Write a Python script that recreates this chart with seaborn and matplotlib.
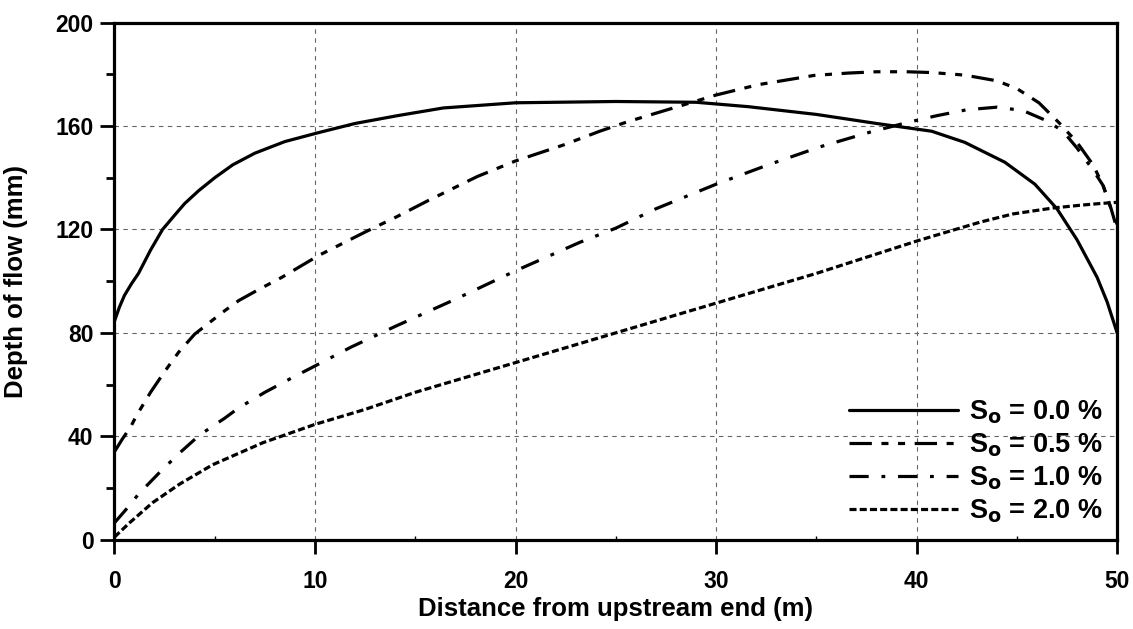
import numpy as np
import pandas as pd
import matplotlib
matplotlib.use("Agg")
import matplotlib.pyplot as plt
import seaborn as sns
from matplotlib.ticker import MultipleLocator
from matplotlib.lines import Line2D

labels = ["S$_\\mathbf{o}$ = 0.0 %", "S$_\\mathbf{o}$ = 0.5 %",
          "S$_\\mathbf{o}$ = 1.0 %", "S$_\\mathbf{o}$ = 2.0 %"]

x_s00 = [0, 0.25, 0.5, 0.85, 1.2, 1.8, 2.4, 3.0, 3.5, 4.2, 5.0, 5.9, 7.0, 8.5, 10.2, 12, 14.1, 16.4, 20, 25, 29, 31.6, 35, 38, 40.75, 42.4, 44.4, 45.9, 47, 48, 49, 49.5, 50]
y_s00 = [84.5, 90, 94.5, 99, 103, 112, 120, 125.5, 130, 135, 140, 145, 149.5, 154, 157.5, 161, 164, 167, 169, 169.5, 169.2, 167.5, 164.5, 161, 158, 153.7, 146, 137.5, 128, 116, 101.5, 92, 80]

x_s05 = [0, 0.4, 0.8, 1.1, 1.8, 2.5, 3.2, 4.0, 5.4, 6.2, 7.2, 8.35, 10.2, 12.5, 14.1, 15.6, 18.1, 20, 22.4, 24.2, 25.6, 28.3, 30, 32.1, 34.9, 36.6, 38, 39.5, 40.75, 42.4, 44.0, 45.0, 46.1, 47.1, 48, 48.8, 49.3, 49.7, 50]
y_s05 = [34, 39, 43.5, 48, 57, 65, 72.5, 79.5, 88, 92.5, 96.8, 101.5, 110, 119, 125, 131, 140.5, 146.5, 152.7, 158, 161.7, 168, 172, 176, 179.6, 180.5, 181, 181, 180.7, 179.7, 177.5, 174.5, 169, 161.3, 153.7, 145, 137, 128, 120]

x_s10 = [0, 0.58, 1.22, 2.25, 3.2, 4.25, 5.5, 6.2, 7.5, 8.85, 10.2, 11.8, 14, 17, 20, 23.2, 25, 27, 30, 32.6, 35.2, 37.7, 39.5, 41, 42.5, 44, 45.3, 46.5, 47.3, 48, 48.8, 49.3, 49.7, 50]
y_s10 = [6.5, 11.7, 17.8, 26, 33.2, 40.5, 47, 51, 57, 62.6, 68, 74.5, 82.5, 93, 104, 115, 120.5, 128, 137.5, 145, 152, 157.7, 161.3, 164, 166.3, 167.3, 166, 162, 158, 151.5, 143, 137, 128, 122]

x_s20 = [0, 0.75, 1.9, 3.25, 4.9, 7.4, 10, 12.5, 15, 20, 25, 30, 35, 38.2, 40, 41.5, 43.2, 44.8, 46.8, 48.2, 49.1, 50]
y_s20 = [1, 6.5, 14.3, 21.5, 29, 37.5, 44.6, 50.4, 57, 68.5, 80, 91.5, 103, 111, 115.5, 119, 122.9, 126, 128.3, 129.4, 130, 130.5]

frames = []
for lab, xs, ys in zip(labels, [x_s00, x_s05, x_s10, x_s20], [y_s00, y_s05, y_s10, y_s20]):
    frames.append(pd.DataFrame({"x": xs, "y": ys, "series": lab}))
df = pd.concat(frames, ignore_index=True)

sns.set_theme(style="white")
plt.rcParams["font.family"] = ["Liberation Sans", "DejaVu Sans"]
plt.rcParams["font.weight"] = "bold"
plt.rcParams["mathtext.default"] = "bf"
plt.rcParams["text.color"] = "black"
plt.rcParams["axes.labelcolor"] = "black"
plt.rcParams["xtick.color"] = "black"
plt.rcParams["ytick.color"] = "black"

fig = plt.figure(figsize=(11.33, 6.29), dpi=100)
ax = fig.add_axes([0.101, 0.142, 0.885, 0.822])

dash_map = {
    labels[0]: "",
    labels[1]: (7, 3, 2.2, 3, 2.2, 3),
    labels[2]: (6, 4, 1.2, 4),
    labels[3]: (2.2, 1.0),
}
sns.lineplot(data=df, x="x", y="y", style="series", dashes=dash_map,
             color="black", linewidth=2.3, ax=ax, sort=False,
             estimator=None, legend=False)

ax.set_xlim(0, 50)
ax.set_ylim(0, 200)
ax.xaxis.set_major_locator(MultipleLocator(10))
ax.xaxis.set_minor_locator(MultipleLocator(5))
ax.yaxis.set_major_locator(MultipleLocator(40))
ax.yaxis.set_minor_locator(MultipleLocator(20))
ax.grid(True, which="major", linestyle=(0, (4, 4)), color="#666666", linewidth=0.8)
ax.tick_params(axis="both", which="major", direction="out", length=10, width=2,
               labelsize=16.5, color="black", labelcolor="black", bottom=True, left=True)
ax.tick_params(axis="x", which="major", pad=12)
ax.tick_params(axis="y", which="major", pad=5)
ax.tick_params(axis="y", which="minor", direction="out", length=6, width=2, left=True, color="black")
ax.tick_params(axis="x", which="minor", direction="in", length=3, width=1, bottom=True, color="black")
for lbl in ax.get_xticklabels() + ax.get_yticklabels():
    lbl.set_fontweight("bold")
for sp in ax.spines.values():
    sp.set_color("black")
    sp.set_linewidth(2.3)

ax.set_xlabel("Distance from upstream end (m)", fontsize=18.5, fontweight="bold",
              labelpad=3, color="black")
ax.set_ylabel("Depth of flow (mm)", fontsize=18.5, fontweight="bold",
              labelpad=20, color="black")

handles = []
for lab in labels:
    d = dash_map[lab]
    if d == "":
        handles.append(Line2D([], [], color="black", linewidth=2.3, linestyle="-"))
    else:
        handles.append(Line2D([], [], color="black", linewidth=2.3, linestyle=(0, d)))
leg = ax.legend(handles, labels, loc="lower right", frameon=False,
                handlelength=4.0, handletextpad=0.4, labelspacing=0.2,
                borderaxespad=0.15, prop={"weight": "bold", "size": 19.5})
for t in leg.get_texts():
    t.set_color("black")

fig.savefig("out.png", dpi=100)
